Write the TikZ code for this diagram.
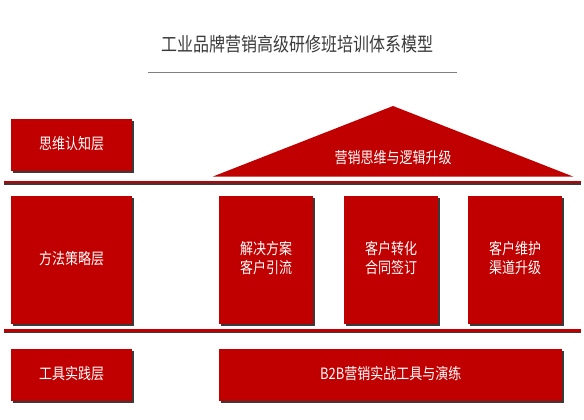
\documentclass[tikz,border=0pt]{standalone}
\usepackage{fontspec}
\setmainfont{Noto Sans CJK SC}
\usetikzlibrary{shadows}
\definecolor{boxred}{HTML}{C00000}
\definecolor{titlegray}{HTML}{3A3A3A}
\definecolor{rulegray}{HTML}{7F7F7F}
\definecolor{shadowgray}{HTML}{3A3A3A}
\newcommand{\vstretch}[1]{\scalebox{1}[1.2]{\begin{tabular}{@{}c@{}}#1\end{tabular}}}
\begin{document}
\begin{tikzpicture}[x=1pt,y=-1pt,
  redbox/.style={fill=boxred, draw=none, text=white, inner sep=0pt, align=center,
    anchor=north west, font=\fontsize{13}{15.25}\selectfont,
    drop shadow={shadow xshift=1.5pt, shadow yshift=-1.5pt, opacity=1, fill=shadowgray}},
  roofred/.style={fill=boxred, draw=none}
]
\useasboundingbox (0,0) rectangle (584,420);
% title
\node[text=titlegray, font=\fontsize{16}{18}\selectfont, inner sep=0pt] (title) at (297,47) {\vstretch{工业品牌营销高级研修班培训体系模型}};
\coordinate (tl) at (148,73);
\coordinate (tr) at (457,73);
\draw[rulegray, line width=1pt] (tl) -- (tr);
% roof
\fill[roofred] (213,176.5) -- (393,106) -- (573,176.5) -- cycle;
\node[text=white, font=\fontsize{13}{15.25}\selectfont, inner sep=0pt] (roof) at (393,160) {\vstretch{营销思维与逻辑升级}};
% separators
\fill[shadowgray] (4,183) rectangle (581,185);
\fill[boxred] (4,180.8) rectangle (581,183);
\fill[shadowgray] (4,331.6) rectangle (581,333.2);
\fill[boxred] (4,329.3) rectangle (581,331.6);
% left column
\node[redbox, minimum width=121pt, minimum height=52pt] (l1) at (11,119) {\vstretch{思维认知层}};
\node[redbox, minimum width=121pt, minimum height=128pt] (l2) at (11,196) {\vstretch{方法策略层}};
\node[redbox, minimum width=121pt, minimum height=52pt] (l3) at (11,349) {\vstretch{工具实践层}};
% middle row
\node[redbox, minimum width=94pt, minimum height=128pt] (m1) at (219,196) {\vstretch{解决方案\\客户引流}};
\node[redbox, minimum width=94pt, minimum height=128pt] (m2) at (344,196) {\vstretch{客户转化\\合同签订}};
\node[redbox, minimum width=94pt, minimum height=128pt] (m3) at (468,196) {\vstretch{客户维护\\渠道升级}};
% bottom
\node[redbox, minimum width=343pt, minimum height=52pt] (b2b) at (219,349) {\vstretch{B2B营销实战工具与演练}};
\end{tikzpicture}
\end{document}
